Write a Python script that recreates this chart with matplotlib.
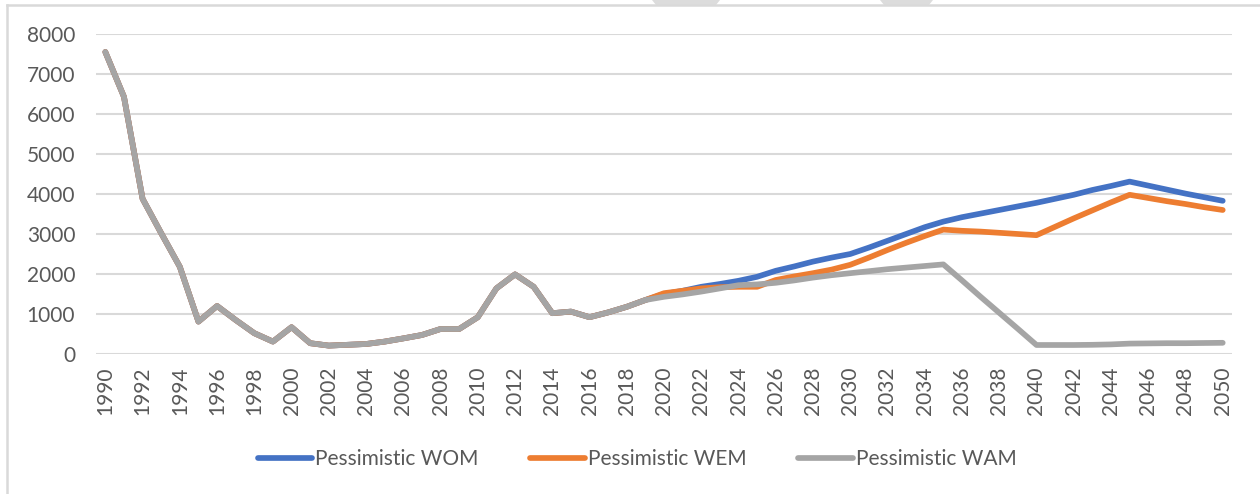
import numpy as np
import matplotlib.pyplot as plt
from matplotlib.lines import Line2D
from matplotlib.patches import Polygon

plt.rcParams['font.family'] = ['Lato', 'DejaVu Sans']

# -- data
years = list(range(1990, 2051))

# shared history 1990-2019
hist = [7550, 6430, 3880, 3020, 2180, 810, 1200, 850, 520, 310,
        670, 270, 210, 230, 250, 310, 390, 475, 625, 625,
        920, 1640, 1990, 1680, 1020, 1060, 920, 1040, 1180, 1350]

# projections 2020-2050
wom = [1500, 1580, 1680, 1750, 1830, 1930, 2080, 2190, 2310, 2410,
       2500, 2660, 2830, 3000, 3170, 3310, 3420, 3510, 3600, 3690,
       3780, 3880, 3980, 4100, 4200, 4310, 4210, 4110, 4010, 3920, 3830]
wem = [1520, 1580, 1640, 1670, 1680, 1680, 1850, 1940, 2020, 2110,
       2230, 2410, 2600, 2780, 2950, 3110, 3080, 3060, 3030, 3000,
       2970, 3180, 3390, 3590, 3790, 3980, 3900, 3820, 3750, 3670, 3600]
wam = [1430, 1490, 1560, 1640, 1720, 1740, 1780, 1840, 1910, 1970,
       2020, 2070, 2120, 2160, 2200, 2240, 1840, 1430, 1030, 630,
       225, 225, 225, 230, 240, 260, 265, 270, 270, 275, 280]

series = [
    ("Pessimistic WOM", hist + wom, "#4472C4"),
    ("Pessimistic WEM", hist + wem, "#ED7D31"),
    ("Pessimistic WAM", hist + wam, "#A5A5A5"),
]

txt = "#595959"
grid = "#D9D9D9"

# -- plot
fig = plt.figure(figsize=(12.6, 4.94), dpi=100)
ax = fig.add_axes([0.0762, 0.2834, 0.9016, 0.6478])

for name, vals, col in series:
    ax.plot(years, vals, color=col, lw=4.1, label=name,
            solid_capstyle='round', solid_joinstyle='round')

ax.set_xlim(1989.5, 2050.5)
ax.set_ylim(0, 8000)
ax.set_yticks(np.arange(0, 8001, 1000))
ax.set_xticks(years[::2])
ax.set_xticklabels([str(y) for y in years[::2]], rotation=90)
ax.tick_params(axis='both', length=0, labelsize=15, labelcolor=txt)
ax.tick_params(axis='y', pad=15)
ax.tick_params(axis='x', pad=9)
ax.grid(axis='y', color=grid, lw=1.5)
ax.set_axisbelow(True)
for sp in ax.spines.values():
    sp.set_visible(False)

leg = fig.legend(loc='center', bbox_to_anchor=(0.5056, 0.0709), ncol=3,
                 frameon=False, fontsize=15, handlelength=2.6,
                 handletextpad=0.15, columnspacing=2.5)
for t in leg.get_texts():
    t.set_color(txt)

# outer frame (top and left edge only)
fig.add_artist(Line2D([0.0052, 1.0], [0.990, 0.990], transform=fig.transFigure,
                      color=grid, lw=1.8))
fig.add_artist(Line2D([0.0052, 0.0052], [0.0, 0.990], transform=fig.transFigure,
                      color=grid, lw=1.8))

# small tabs above the frame
for x0, x1 in [(652, 720), (880, 933)]:
    pts = [(x0 / 1260, 1.0), (x1 / 1260, 1.0),
           ((x1 - 4) / 1260, 0.990), ((x0 + 4) / 1260, 0.990)]
    fig.add_artist(Polygon(pts, closed=True, transform=fig.transFigure,
                           facecolor="#DCDCDC", edgecolor='none'))

fig.savefig("out.png", dpi=100)
